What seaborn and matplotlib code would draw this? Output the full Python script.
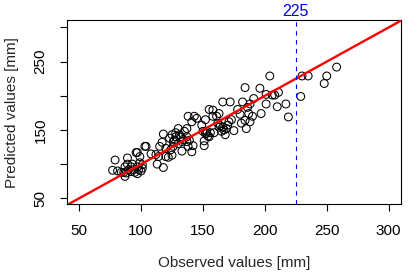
import matplotlib
matplotlib.use("Agg")
import matplotlib.pyplot as plt
import matplotlib.transforms as mtransforms
import numpy as np
import pandas as pd
import seaborn as sns

# observed vs predicted (mm)
observed = [77, 79, 81, 84, 86, 87, 87, 89, 89, 90, 92, 93, 95, 96, 97, 97, 97, 99, 99, 101,
            101, 103, 104, 94, 92, 88, 98, 100,
            108, 112, 113, 114, 115, 117, 118, 118, 120, 120, 122, 123, 124, 125, 125, 126,
            127, 128, 128, 130, 131, 132, 133, 134, 135, 137, 137, 138, 138, 139, 141, 141,
            142, 143, 145, 133, 126, 130, 137,
            149, 150, 151, 151, 152, 152, 153, 153, 154, 155, 155, 156, 158, 159, 161, 162,
            163, 163, 164, 165, 166, 166, 167, 168, 169, 170, 171, 172, 173, 175, 158,
            178, 180, 181, 184, 184, 185, 186, 187, 190, 191, 196, 197, 201, 201, 204, 206,
            208, 210, 211, 217, 219, 188, 188, 182,
            229, 230, 235, 248, 250, 258]
predicted = [91, 106, 90, 88, 88, 82, 96, 109, 100, 92, 96, 100, 88, 117, 86, 117, 96, 102, 111, 94,
             99, 126, 126, 92, 89, 87, 92, 90,
             115, 114, 100, 111, 126, 132, 144, 95, 111, 123, 110, 138, 121, 143, 113, 126,
             135, 146, 140, 152, 143, 140, 119, 136, 148, 152, 140, 170, 126, 135, 162, 118,
             127, 170, 167, 133, 133, 130, 133,
             157, 148, 134, 127, 165, 145, 145, 148, 141, 180, 140, 146, 179, 146, 170, 160,
             154, 174, 156, 148, 154, 191, 150, 143, 152, 157, 162, 191, 165, 149, 170,
             180, 173, 160, 212, 164, 152, 183, 174, 170, 196, 211, 174, 188, 202, 229, 201,
             201, 184, 205, 188, 169, 162, 188, 191,
             199, 229, 229, 218, 229, 242]

x_ticks = [50, 100, 150, 200, 250, 300]
y_ticks = [50, 100, 150, 200, 250, 300]
y_ticklabels = ["50", "", "150", "", "250", ""]
cutoff = 225

df = pd.DataFrame({"observed": observed, "predicted": predicted})

sns.set_style("ticks")
plt.rcParams["font.family"] = ["Liberation Sans", "DejaVu Sans"]

fig = plt.figure(figsize=(4.10, 2.77), dpi=100)
ax = fig.add_axes([0.163, 0.262, 0.815, 0.666])

sns.scatterplot(data=df, x="observed", y="predicted", ax=ax, marker="o", s=32,
                facecolors="none", edgecolor="black", linewidth=0.75, zorder=2)
ax.axline((0, 0), slope=1, color="red", lw=1.7, zorder=3)
ax.axvline(cutoff, color="blue", lw=0.8, dashes=(4, 4), zorder=3)

ax.set_xlim(40, 310)
ax.set_ylim(41, 311)
ax.set_xticks(x_ticks)
ax.set_yticks(y_ticks)
ax.set_yticklabels(y_ticklabels, rotation=90, va="center")
ax.tick_params(direction="out", length=5, width=0.8, colors="black",
               labelsize=11, pad=9)
for sp in ax.spines.values():
    sp.set_visible(True)
    sp.set_color("black")
    sp.set_linewidth(0.8)

ax.set_xlabel("Observed values [mm]", fontsize=11, labelpad=13)
ax.set_ylabel("Predicted values [mm]", fontsize=11, labelpad=10)

trans = mtransforms.blended_transform_factory(ax.transData, ax.transAxes)
ax.text(cutoff, 1.005, str(cutoff), transform=trans, color="blue",
        ha="center", va="bottom", fontsize=11.5)

fig.savefig("out.png", dpi=100)
